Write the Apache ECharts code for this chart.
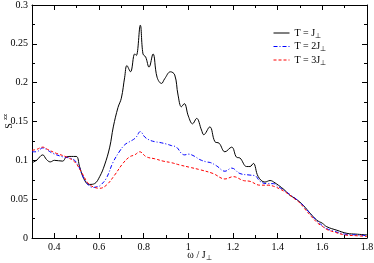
<!DOCTYPE html>
<html><head><meta charset="utf-8">
<script src="https://cdn.jsdelivr.net/npm/echarts@6/dist/echarts.min.js"></script>
<style>html,body{margin:0;padding:0;background:#fff}#c{width:374px;height:263px}</style>
</head><body><div id="c"></div>
<script>
// T = J⊥
const x1 = [0.30,0.32,0.348,0.365,0.382,0.40,0.437,0.453,0.47,0.498,0.513,0.528,0.546,0.558,0.58,0.603,0.625,0.648,0.664,0.685,0.70,0.715,0.725,0.741,0.76,0.767,0.785,0.797,0.809,0.824,0.842,0.86,0.88,0.894,0.92,0.939,0.954,0.969,0.982,1.0,1.019,1.037,1.059,1.069,1.096,1.119,1.138,1.164,1.194,1.216,1.231,1.261,1.276,1.291,1.313,1.343,1.366,1.388,1.403,1.43,1.455,1.478,1.50,1.515,1.545,1.575,1.60,1.62,1.665,1.71,1.75,1.8];
const y1 = [0.097,0.100,0.107,0.101,0.098,0.100,0.099,0.104,0.105,0.105,0.092,0.079,0.070,0.069,0.070,0.079,0.094,0.117,0.143,0.168,0.180,0.207,0.222,0.214,0.237,0.235,0.274,0.237,0.233,0.220,0.237,0.207,0.199,0.205,0.214,0.210,0.184,0.169,0.173,0.157,0.147,0.154,0.139,0.133,0.143,0.124,0.122,0.111,0.117,0.104,0.103,0.092,0.092,0.096,0.079,0.072,0.074,0.071,0.068,0.062,0.055,0.051,0.046,0.042,0.032,0.023,0.019,0.0145,0.010,0.006,0.005,0.004];
// T = 2J⊥
const x2 = [0.30,0.32,0.348,0.37,0.393,0.438,0.468,0.491,0.513,0.528,0.55,0.573,0.59,0.603,0.633,0.662,0.693,0.715,0.737,0.755,0.767,0.785,0.805,0.827,0.85,0.872,0.902,0.924,0.947,0.969,0.984,1.0,1.029,1.051,1.081,1.10,1.126,1.164,1.194,1.231,1.276,1.30,1.321,1.351,1.381,1.403,1.43,1.455,1.478,1.50,1.52,1.55,1.58,1.60,1.62,1.65,1.70,1.75,1.8];
const y2 = [0.111,0.111,0.116,0.113,0.109,0.1045,0.103,0.100,0.090,0.079,0.069,0.065,0.066,0.067,0.077,0.097,0.112,0.120,0.124,0.127,0.130,0.137,0.130,0.126,0.124,0.123,0.121,0.119,0.117,0.109,0.107,0.108,0.105,0.101,0.098,0.097,0.093,0.086,0.090,0.083,0.081,0.080,0.073,0.070,0.070,0.066,0.061,0.056,0.051,0.046,0.040,0.030,0.021,0.016,0.012,0.009,0.005,0.004,0.003];
// T = 3J⊥
const x3 = [0.30,0.32,0.348,0.37,0.409,0.453,0.491,0.521,0.55,0.573,0.603,0.633,0.67,0.707,0.737,0.76,0.782,0.812,0.85,0.887,0.924,0.962,1.007,1.051,1.111,1.164,1.201,1.246,1.276,1.321,1.358,1.388,1.41,1.43,1.455,1.478,1.50,1.52,1.55,1.58,1.60,1.62,1.65,1.70,1.75,1.8];
const y3 = [0.113,0.114,0.117,0.114,0.109,0.1045,0.098,0.085,0.071,0.066,0.064,0.068,0.081,0.096,0.1045,0.107,0.111,0.1045,0.102,0.099,0.097,0.094,0.091,0.088,0.083,0.076,0.079,0.074,0.073,0.068,0.068,0.066,0.063,0.060,0.055,0.050,0.045,0.038,0.028,0.019,0.015,0.011,0.008,0.004,0.003,0.002];

const seriesNames = ['T = J', 'T = 2J', 'T = 3J'];
const xMajor = [0.4,0.6,0.8,1.0,1.2,1.4,1.6,1.8];
const xMinor = [0.3,0.5,0.7,0.9,1.1,1.3,1.5,1.7];

const pairs = (xs, ys) => xs.map((x, i) => [x, ys[i]]);
const font = 'Liberation Serif';
const black = '#000';

function xAx(pos, ticks, len, labels, line) {
  return {
    type: 'value', position: pos, min: 0.3, max: 1.8,
    axisLine: { show: line, lineStyle: { color: black, width: 1 } },
    axisTick: { show: true, inside: true, length: len, customValues: ticks, lineStyle: { color: black } },
    axisLabel: labels ? { show: true, customValues: ticks, color: black, fontFamily: font, fontSize: 10, margin: 4,
      formatter: v => String(Number(v.toFixed(1))) } : { show: false },
    splitLine: { show: false }
  };
}

const chart = echarts.init(document.getElementById('c'), null, { renderer: 'canvas' });
chart.setOption({
  animation: false,
  backgroundColor: '#fff',
  grid: { left: 32, right: 7, top: 5, bottom: 25, containLabel: false, outerBoundsMode: 'none' },
  graphic: [
    { type: 'text', x: 9, y: 126, rotation: Math.PI / 2,
      style: { text: 'S', align: 'center', verticalAlign: 'middle', fontFamily: font, fontSize: 10, fill: black } },
    { type: 'text', x: 5, y: 117, rotation: Math.PI / 2,
      style: { text: 'zz', align: 'center', verticalAlign: 'middle', fontFamily: font, fontSize: 7, fill: black } }
  ],
  legend: {
    orient: 'vertical', left: 268, top: 23, itemWidth: 16, itemHeight: 10, itemGap: 2,
    data: seriesNames,
    itemStyle: { opacity: 0 },
    lineStyle: { width: 1 },
    textStyle: { fontFamily: font, fontSize: 10, color: black,
      rich: { a: { fontFamily: font, fontSize: 10, color: black }, b: { fontFamily: font, fontSize: 7, color: black, verticalAlign: 'bottom', padding: [6, 0, 0, 0] } } },
    formatter: n => '{a|' + n + '}{b|⊥}'
  },
  xAxis: [
    Object.assign(xAx('bottom', xMajor, 5, true, true), {
      name: '{a|ω / J}{b|⊥}', nameLocation: 'middle', nameGap: 11, nameMoveOverlap: false,
      nameTextStyle: { fontFamily: font, fontSize: 10, color: black,
        rich: { a: { fontFamily: font, fontSize: 10, color: black }, b: { fontFamily: font, fontSize: 7, color: black, padding: [6, 0, 0, 0] } } }
    }),
    xAx('bottom', xMinor, 3, false, false),
    xAx('top', xMajor, 5, false, true),
    xAx('top', xMinor, 3, false, false)
  ],
  yAxis: [
    {
      type: 'value', position: 'left', min: 0, max: 0.3, interval: 0.05,
      axisLine: { show: true, lineStyle: { color: black } },
      axisTick: { show: true, inside: true, length: 5, lineStyle: { color: black } },
      minorTick: { show: true, splitNumber: 2, length: 3, lineStyle: { color: black } },
      axisLabel: { color: black, fontFamily: font, fontSize: 10, margin: 4, formatter: v => String(Number(v.toFixed(2))) },
      splitLine: { show: false }
    },
    {
      type: 'value', position: 'right', min: 0, max: 0.3, interval: 0.05,
      axisLine: { show: true, lineStyle: { color: black } },
      axisTick: { show: true, inside: true, length: 5, lineStyle: { color: black } },
      minorTick: { show: true, splitNumber: 2, length: 3, lineStyle: { color: black } },
      axisLabel: { show: false },
      splitLine: { show: false }
    }
  ],
  series: [
    { name: seriesNames[0], type: 'line', data: pairs(x1, y1), symbol: 'none', smooth: 0.4,
      lineStyle: { color: '#000', width: 1 }, itemStyle: { color: '#000' } },
    { name: seriesNames[1], type: 'line', data: pairs(x2, y2), symbol: 'none', smooth: 0.4,
      lineStyle: { color: '#0000ff', width: 1, type: [4, 2, 1, 2] }, itemStyle: { color: '#0000ff' } },
    { name: seriesNames[2], type: 'line', data: pairs(x3, y3), symbol: 'none', smooth: 0.4,
      lineStyle: { color: '#ff0000', width: 1, type: [3, 2] }, itemStyle: { color: '#ff0000' } }
  ]
});
</script></body></html>
